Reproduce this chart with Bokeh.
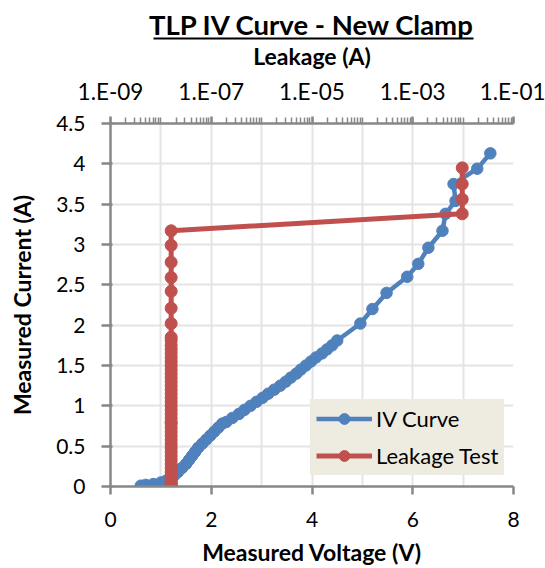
from bokeh.plotting import figure
from bokeh.models import (Range1d, LogScale, LogAxis, LinearAxis, FixedTicker,
                          CustomJSTickFormatter, Legend, LegendItem)
from bokeh.embed import file_html
from bokeh.resources import INLINE

# ---- data ----
iv_voltage = [0.60, 0.70, 0.85, 1.00, 1.10, 1.18, 1.27, 1.34, 1.42, 1.50,
              1.56, 1.62, 1.68, 1.74, 1.82, 1.90, 1.98, 2.06, 2.14, 2.22,
              2.30, 2.42, 2.55, 2.66, 2.78, 2.90, 3.02, 3.13, 3.25, 3.37,
              3.48, 3.58, 3.69, 3.78, 3.88, 3.98, 4.08, 4.20, 4.30, 4.40,
              4.50, 4.96, 5.20, 5.48, 5.89, 6.11, 6.31, 6.59, 6.65, 6.85,
              6.81, 7.28, 7.54]
iv_current = [0.01, 0.02, 0.03, 0.05, 0.07, 0.10, 0.14, 0.18, 0.23, 0.28,
              0.33, 0.38, 0.43, 0.48, 0.53, 0.58, 0.63, 0.68, 0.73, 0.78,
              0.80, 0.85, 0.90, 0.95, 1.00, 1.05, 1.10, 1.15, 1.20, 1.25,
              1.30, 1.35, 1.40, 1.45, 1.50, 1.55, 1.60, 1.65, 1.70, 1.75,
              1.81, 2.02, 2.20, 2.40, 2.60, 2.76, 2.96, 3.17, 3.38, 3.54,
              3.75, 3.94, 4.13]

leak_current = [0.00, 0.01, 0.02, 0.03, 0.05, 0.07, 0.10, 0.14, 0.18, 0.23,
                0.28, 0.33, 0.38, 0.43, 0.48, 0.53, 0.58, 0.63, 0.68, 0.73,
                0.78, 0.80, 0.85, 0.90, 0.95, 1.00, 1.05, 1.10, 1.15, 1.20,
                1.25, 1.30, 1.35, 1.40, 1.45, 1.50, 1.55, 1.60, 1.65, 1.70,
                1.75, 1.81, 1.85, 2.02, 2.21, 2.42, 2.59, 2.78, 2.99, 3.17,
                3.38, 3.56, 3.75, 3.95]
leak_amps = [1.60e-8, 1.60e-8, 1.60e-8, 1.60e-8, 1.60e-8, 1.60e-8, 1.60e-8, 1.60e-8, 1.60e-8, 1.60e-8,
             1.60e-8, 1.60e-8, 1.60e-8, 1.60e-8, 1.60e-8, 1.60e-8, 1.60e-8, 1.60e-8, 1.60e-8, 1.60e-8,
             1.60e-8, 1.60e-8, 1.60e-8, 1.60e-8, 1.60e-8, 1.60e-8, 1.60e-8, 1.60e-8, 1.60e-8, 1.60e-8,
             1.60e-8, 1.60e-8, 1.60e-8, 1.60e-8, 1.60e-8, 1.60e-8, 1.60e-8, 1.60e-8, 1.60e-8, 1.60e-8,
             1.60e-8, 1.60e-8, 1.60e-8, 1.60e-8, 1.60e-8, 1.60e-8, 1.60e-8, 1.60e-8, 1.60e-8, 1.60e-8,
             9.6e-3, 9.6e-3, 9.6e-3, 9.6e-3]

x_ticks = [0, 2, 4, 6, 8]
y_ticks = [0, 0.5, 1, 1.5, 2, 2.5, 3, 3.5, 4, 4.5]
grid_x = [0, 1, 2, 3, 4, 5, 6, 7, 8]
leak_major = [1e-9, 1e-7, 1e-5, 1e-3, 1e-1]
leak_minor = [m * 10.0 ** k for k in range(-9, -1) for m in range(1, 10)] + [1e-1]

FONT = "Lato"
AXC = "#878787"
BLUE = "#4F81BD"
RED = "#C0504D"
LEG_BG = "#EEECE1"

p = figure(frame_width=403, frame_height=363,
           x_range=Range1d(0, 8), y_range=Range1d(0, 4.5),
           output_backend="svg", toolbar_location=None,
           min_border_left=110, min_border_right=32,
           min_border_top=123, min_border_bottom=82)
p.extra_x_ranges = {"leak": Range1d(1e-9, 1e-1)}
p.extra_x_scales = {"leak": LogScale()}
p.outline_line_color = None

p.title.text = "TLP IV Curve - New Clamp"
p.title.align = "center"
p.title.text_font = FONT
p.title.text_font_size = "27.5px"
p.title.text_font_style = "bold"
p.title.text_color = "black"
p.title.standoff = -4

def style_axis(ax, size="21px"):
    ax.axis_line_color = AXC
    ax.axis_line_width = 2.5
    ax.major_tick_line_color = AXC
    ax.major_tick_line_width = 2.5
    ax.major_label_text_font = FONT
    ax.major_label_text_font_size = size
    ax.major_label_text_color = "black"
    ax.axis_label_text_font = FONT
    ax.axis_label_text_font_size = "23px"
    ax.axis_label_text_font_style = "bold"
    ax.axis_label_text_color = "black"

xa = p.xaxis[0]
style_axis(xa)
xa.ticker = FixedTicker(ticks=x_ticks)
xa.major_tick_out = 8
xa.major_tick_in = 0
xa.minor_tick_line_color = None
xa.major_label_standoff = 17
xa.axis_label = "Measured Voltage (V)"
xa.axis_label_standoff = 8

ya = p.yaxis[0]
style_axis(ya)
ya.ticker = FixedTicker(ticks=y_ticks)
ya.major_tick_out = 9
ya.major_tick_in = 2
ya.minor_tick_line_color = None
ya.major_label_standoff = 16
ya.axis_label = "Measured Current (A)"
ya.axis_label_standoff = 17

top = LogAxis(x_range_name="leak",
              ticker=FixedTicker(ticks=leak_major, minor_ticks=leak_minor),
              formatter=CustomJSTickFormatter(code="""
                  const e = Math.round(Math.log10(tick));
                  const a = Math.abs(e);
                  return '1.E' + (e < 0 ? '-' : '+') + (a < 10 ? '0' : '') + a;
              """))
style_axis(top, size="22.5px")
top.major_tick_out = 7
top.major_tick_in = 0
top.minor_tick_out = 6
top.minor_tick_in = 0
top.minor_tick_line_color = AXC
top.minor_tick_line_width = 1.5
top.major_label_standoff = 12
top.axis_label = "Leakage (A)"
top.axis_label_standoff = 5
p.add_layout(top, "above")

# empty spacer band, then a bounded axis rule that serves as the title underline
spacer = LinearAxis(ticker=FixedTicker(ticks=[]), axis_line_color=None,
                    major_tick_line_color=None, minor_tick_line_color=None,
                    major_tick_out=11, major_tick_in=0, minor_tick_out=0, minor_tick_in=0)
p.add_layout(spacer, "above")
title_rule = LinearAxis(ticker=FixedTicker(ticks=[]), bounds=(0.85, 7.2),
                        axis_line_color="black", axis_line_width=2,
                        major_tick_line_color=None, minor_tick_line_color=None,
                        major_tick_out=0, major_tick_in=0, minor_tick_out=0, minor_tick_in=0)
p.add_layout(title_rule, "above")

p.xgrid[0].ticker = FixedTicker(ticks=grid_x)
p.ygrid[0].ticker = FixedTicker(ticks=y_ticks)
for g in (p.xgrid[0], p.ygrid[0]):
    g.grid_line_color = "#E4E4E4"
    g.grid_line_width = 2

bl = p.line(iv_voltage, iv_current, line_color=BLUE, line_width=4.5)
bs = p.scatter(iv_voltage, iv_current, size=11.5, fill_color=BLUE, line_color=BLUE)
rl = p.line(leak_amps, leak_current, x_range_name="leak", line_color=RED, line_width=5)
rs = p.scatter(leak_amps, leak_current, x_range_name="leak", size=12,
               fill_color=RED, line_color=RED)

legend = Legend(items=[LegendItem(label="IV Curve", renderers=[bl, bs]),
                       LegendItem(label="Leakage Test", renderers=[rl, rs])],
                location=(200, 11))
legend.background_fill_color = LEG_BG
legend.background_fill_alpha = 1.0
legend.border_line_color = LEG_BG
legend.border_line_width = 1
legend.label_text_font = FONT
legend.label_text_font_size = "22px"
legend.label_text_color = "black"
legend.glyph_width = 56
legend.glyph_height = 27
legend.label_height = 27
legend.label_standoff = 4
legend.spacing = 10
legend.padding = 5
legend.margin = 0
p.add_layout(legend)

open("out.html", "w").write(file_html(p, INLINE))
